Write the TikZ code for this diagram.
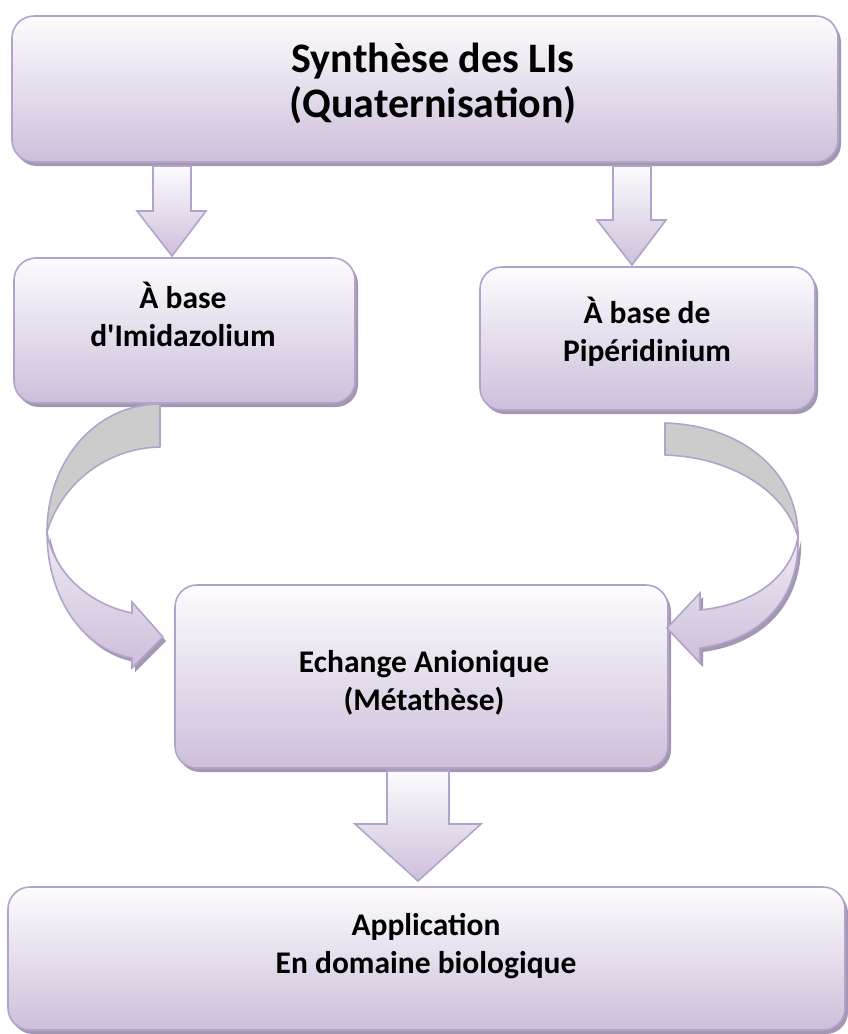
\documentclass[tikz,border=0pt]{standalone}
\usepackage{fontspec}
\setmainfont{Carlito}[Ligatures=TeXOff]
\definecolor{lav}{HTML}{CDBFDA}
\definecolor{lavlight}{HTML}{FDFCFE}
\definecolor{edgec}{HTML}{B3A3CB}
\definecolor{shad}{HTML}{A397B1}
\definecolor{backgray}{HTML}{CCCCCC}
\begin{document}
\begin{tikzpicture}[x=1pt,y=-1pt,
  box/.style={draw=edgec, line width=1.6pt, rounded corners=22pt,
    top color=lavlight, bottom color=lav, inner sep=0pt},
  boxshadow/.style={fill=shad, rounded corners=22pt, inner sep=0pt},
  bigtxt/.style={font=\bfseries\fontsize{42}{45}\selectfont, align=center, inner sep=0pt},
  txt/.style={font=\bfseries\fontsize{31.5}{38}\selectfont, align=center, inner sep=0pt},
  blockarrow/.style={draw=edgec, line width=1.6pt, top color=lavlight, bottom color=lav, line join=miter},
  backband/.style={draw=edgec, line width=1.6pt, fill=backgray, line join=round},
  frontband/.style={draw=edgec, line width=1.6pt, top color=lavlight!70!lav, bottom color=lav, line join=miter},
  arrowshadow/.style={fill=shad},
]
\useasboundingbox (0,0) rectangle (848,1034);

% ---------- boxes ----------
\node[boxshadow, minimum width=826pt, minimum height=146pt] (topS) at (428,93) {};
\node[box, minimum width=826pt, minimum height=146pt] (top) at (425,89) {};
\node[bigtxt, anchor=base] (topT) at (433,117.5) {Synthèse des LIs\\(Quaternisation)};

\node[boxshadow, minimum width=341pt, minimum height=145pt] (leftS) at (187.5,334.5) {};
\node[box, minimum width=341pt, minimum height=145pt] (left) at (184.5,330.5) {};
\node[txt, anchor=base] (leftT) at (183,346) {À base\\d'Imidazolium};

\node[boxshadow, minimum width=335pt, minimum height=143pt] (rightS) at (650.5,342.5) {};
\node[box, minimum width=335pt, minimum height=143pt] (right) at (647.5,338.5) {};
\node[txt, anchor=base] (rightT) at (647,361) {À base de\\Pipéridinium};

\node[boxshadow, minimum width=493pt, minimum height=183pt] (midS) at (424.5,680.5) {};
\node[box, minimum width=493pt, minimum height=183pt] (mid) at (421.5,676.5) {};
\node[txt, anchor=base] (midT) at (424,710) {Echange Anionique\\(Métathèse)};

\node[boxshadow, minimum width=837pt, minimum height=143pt] (botS) at (429.5,962.5) {};
\node[box, minimum width=837pt, minimum height=143pt] (bot) at (426.5,958.5) {};
\node[txt, anchor=base] (botT) at (426,973) {Application\\En domaine biologique};

% ---------- straight block arrows ----------
% top -> left
\coordinate (a1) at (172,166);
\coordinate (a1t) at (172,256);
\draw[blockarrow] ([xshift=-19pt]a1) -- ([xshift=19pt]a1) -- (191,211) -- (206,211)
  -- (a1t) -- (137,211) -- (153,211) -- cycle;
% top -> right
\coordinate (a2) at (632,166);
\coordinate (a2t) at (632,265);
\draw[blockarrow] ([xshift=-19pt]a2) -- ([xshift=19pt]a2) -- (651,220) -- (666,220)
  -- (a2t) -- (597,220) -- (613,220) -- cycle;
% mid -> bot
\coordinate (a3) at (418,771);
\coordinate (a3t) at (418,881);
\draw[blockarrow] ([xshift=-31pt]a3) -- ([xshift=31pt]a3) -- (449,824) -- (481,824)
  -- (a3t) -- (355,824) -- (387,824) -- cycle;

% ---------- curved arrow left -> mid ----------
\coordinate (c1s) at (160,404);
\coordinate (c1e) at (163,637);
\fill[arrowshadow] (50,536) .. controls (50,604) and (88,654) .. (135,662) -- (135,672)
  -- (166,641) -- (135,606) -- (135,617) .. controls (95,609) and (57,579) .. (50,536) -- cycle;
\draw[backband] (c1s) .. controls (95,404) and (47,462) .. (47,532)
  .. controls (62,482) and (108,448) .. (160,447) -- cycle;
\draw[frontband] (47,532) .. controls (47,600) and (85,650) .. (132,658) -- (132,668)
  -- (c1e) -- (132,602) -- (132,613) .. controls (92,605) and (54,575) .. (47,532) -- cycle;

% ---------- curved arrow right -> mid ----------
\coordinate (c2s) at (665,423);
\coordinate (c2e) at (667,628);
\fill[arrowshadow] (801,541) .. controls (803,604) and (763,644) .. (703,652) -- (703,667)
  -- (670,632) -- (703,597) -- (703,614) .. controls (753,609) and (793,584) .. (801,541) -- cycle;
\draw[backband] (c2s) .. controls (740,425) and (798,470) .. (798,537)
  .. controls (785,490) and (730,457) .. (665,455) -- cycle;
\draw[frontband] (798,537) .. controls (800,600) and (760,640) .. (700,648) -- (700,663)
  -- (c2e) -- (700,593) -- (700,610) .. controls (750,605) and (790,580) .. (798,537) -- cycle;
\end{tikzpicture}
\end{document}
